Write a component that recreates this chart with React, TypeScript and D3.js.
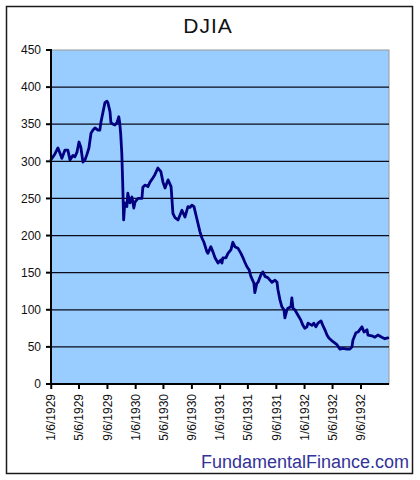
import React from "react";
import * as d3 from "d3";

const dates: string[] = [
  "1929-01-05","1929-01-22","1929-02-04","1929-02-13","1929-02-21","1929-03-06","1929-03-19","1929-03-28",
  "1929-04-10","1929-04-18","1929-04-27","1929-05-06","1929-05-14","1929-05-23","1929-06-01","1929-06-09",
  "1929-06-18","1929-06-27","1929-07-05","1929-07-14","1929-07-27","1929-08-04","1929-08-09","1929-08-17",
  "1929-08-26","1929-09-04","1929-09-08","1929-09-17","1929-09-21","1929-09-30","1929-10-08","1929-10-17",
  "1929-10-25","1929-10-29","1929-11-02","1929-11-07","1929-11-11","1929-11-15","1929-11-20","1929-11-29",
  "1929-12-03","1929-12-12","1929-12-21","1929-12-29","1930-01-03","1930-01-16","1930-02-02","1930-02-06",
  "1930-02-15","1930-02-28","1930-03-09","1930-03-22","1930-03-30","1930-04-12","1930-04-25","1930-05-04",
  "1930-05-13","1930-05-21","1930-05-26","1930-06-08","1930-06-12","1930-06-16","1930-06-25","1930-07-08",
  "1930-07-25","1930-08-07","1930-08-20","1930-08-29","1930-09-06","1930-09-15","1930-09-28","1930-10-11",
  "1930-10-19","1930-10-28","1930-11-10","1930-11-14","1930-11-27","1930-12-06","1930-12-15","1930-12-28",
  "1931-01-09","1931-01-14","1931-01-18","1931-01-31","1931-02-09","1931-02-22","1931-03-02","1931-03-11",
  "1931-03-24","1931-04-06","1931-04-15","1931-04-23","1931-05-02","1931-05-11","1931-05-19","1931-06-01",
  "1931-06-05","1931-06-14","1931-06-19","1931-07-01","1931-07-10","1931-07-19","1931-08-01","1931-08-18",
  "1931-08-31","1931-09-09","1931-09-13","1931-09-22","1931-09-30","1931-10-09","1931-10-13","1931-10-22",
  "1931-10-26","1931-11-08","1931-11-12","1931-11-17","1931-11-25","1931-12-08","1931-12-21","1931-12-30",
  "1932-01-07","1932-01-16","1932-01-21","1932-02-07","1932-02-15","1932-02-24","1932-03-04","1932-03-17",
  "1932-03-25","1932-04-03","1932-04-12","1932-04-20","1932-05-08","1932-05-25","1932-06-07","1932-06-20",
  "1932-07-07","1932-07-20","1932-07-29","1932-08-02","1932-08-15","1932-08-24","1932-09-10","1932-09-19",
  "1932-10-02","1932-10-06","1932-10-23","1932-11-05","1932-11-18","1932-12-05","1932-12-18","1932-12-31",
];

const values: number[] = [
  302, 310, 318, 311, 304, 315, 315, 302,
  308, 306, 312, 326, 319, 299, 302, 309,
  318, 338, 342, 345, 342, 342, 353, 365,
  379, 381, 379, 367, 352, 350, 349, 352,
  360, 352, 338, 311, 270, 221, 244, 239,
  257, 244, 252, 237, 245, 250, 250, 265,
  268, 266, 272, 278, 282, 291, 286, 272,
  264, 271, 275, 266, 248, 230, 224, 221,
  234, 225, 239, 238, 241, 239, 222, 205,
  197, 191, 178, 176, 185, 178, 170, 163,
  167, 163, 170, 170, 176, 181, 191, 185,
  183, 176, 170, 164, 158, 154, 145, 136,
  123, 136, 137, 147, 151, 145, 143, 137,
  140, 137, 127, 113, 104, 100, 89, 100,
  102, 104, 116, 102, 100, 93, 86, 79,
  75, 77, 82, 79, 82, 77, 82, 85,
  79, 73, 66, 62, 57, 53, 47, 48,
  47, 47, 50, 59, 69, 70, 77, 70,
  73, 66, 65, 63, 66, 63, 61, 62,
];

const yTicks: number[] = [0, 50, 100, 150, 200, 250, 300, 350, 400, 450];
const xTickLabels: string[] = [
  "1/6/1929", "5/6/1929", "9/6/1929", "1/6/1930", "5/6/1930", "9/6/1930",
  "1/6/1931", "5/6/1931", "9/6/1931", "1/6/1932", "5/6/1932", "9/6/1932",
];
const domainStart = "1929-01-05";
const domainEnd = "1933-01-05";

const W = 420;
const H = 480;
const plot = { left: 51, right: 389, top: 50, bottom: 384 };
const font = "Arial, 'Liberation Sans', sans-serif";

export default function App() {
  const parseISO = d3.utcParse("%Y-%m-%d");
  const parseMDY = d3.utcParse("%m/%d/%Y");
  const x = d3
    .scaleUtc()
    .domain([parseISO(domainStart)!, parseISO(domainEnd)!])
    .range([plot.left, plot.right]);
  const y = d3.scaleLinear().domain([0, 450]).range([plot.bottom, plot.top]);

  const pts = dates.map((d, i) => ({ d: parseISO(d)!, v: values[i] }));
  const line = d3
    .line<{ d: Date; v: number }>()
    .x((p) => x(p.d))
    .y((p) => y(p.v));

  return (
    <svg
      width={W}
      height={H}
      style={{ position: "absolute", left: 0, top: 0, background: "#fff" }}
      fontFamily={font}
    >
      <rect x={0} y={0} width={W} height={H} fill="#fff" />
      <rect x={6.5} y={6.5} width={406} height={467} fill="none" stroke="#1a1a1a" strokeWidth={1.5} />
      <text x={208} y={33} textAnchor="middle" fontSize={21} letterSpacing={1} fill="#111">
        DJIA
      </text>

      <rect
        x={plot.left}
        y={plot.top}
        width={plot.right - plot.left}
        height={plot.bottom - plot.top}
        fill="#99CCFF"
        stroke="#9a9a9a"
        strokeWidth={1}
      />
      {yTicks
        .filter((t) => t > 0 && t < 450)
        .map((t) => (
          <line
            key={"g" + t}
            x1={plot.left}
            x2={plot.right}
            y1={y(t)}
            y2={y(t)}
            stroke="#0a0a1a"
            strokeWidth={1.3}
          />
        ))}

      <path
        d={line(pts) || ""}
        fill="none"
        stroke="#000080"
        strokeWidth={2.8}
        strokeLinejoin="round"
        strokeLinecap="round"
      />

      <line x1={plot.left} x2={plot.left} y1={plot.top - 1} y2={plot.bottom + 1} stroke="#000" strokeWidth={2} />
      <line x1={plot.left} x2={plot.right} y1={plot.bottom} y2={plot.bottom} stroke="#000" strokeWidth={2} />

      {yTicks.map((t) => (
        <g key={"y" + t}>
          <line x1={plot.left - 5} x2={plot.left} y1={y(t)} y2={y(t)} stroke="#000" strokeWidth={2} />
          <text x={41} y={y(t)} dy="0.35em" textAnchor="end" fontSize={12} fill="#111">
            {t}
          </text>
        </g>
      ))}

      {xTickLabels.map((lab) => {
        const xp = x(parseMDY(lab)!);
        return (
          <g key={lab}>
            <line x1={xp} x2={xp} y1={plot.bottom} y2={plot.bottom + 5} stroke="#000" strokeWidth={2} />
            <text
              transform={`translate(${xp},${plot.bottom + 10}) rotate(-90)`}
              dy="0.35em"
              textAnchor="end"
              fontSize={12}
              fill="#111"
            >
              {lab}
            </text>
          </g>
        );
      })}

      <text x={409} y={468} textAnchor="end" fontSize={18} fill="#333399">
        FundamentalFinance.com
      </text>
    </svg>
  );
}
